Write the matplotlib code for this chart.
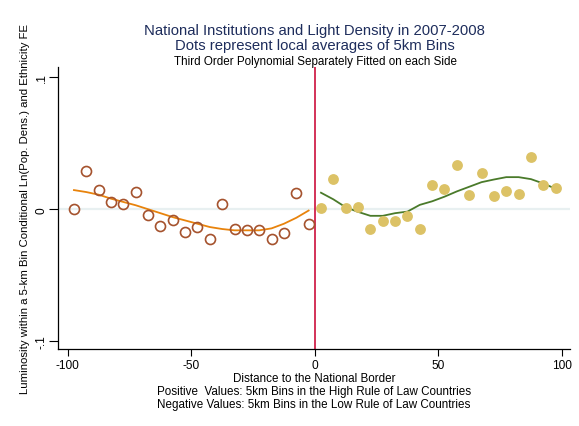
import matplotlib.pyplot as plt
import numpy as np

plt.rcParams['font.family'] = ['Liberation Sans', 'DejaVu Sans']
plt.rcParams['axes.unicode_minus'] = False

# 5km bin centres on each side of the border
left_x = [-97.5, -92.5, -87.5, -82.5, -77.5, -72.5, -67.5, -62.5, -57.5, -52.5,
          -47.5, -42.5, -37.5, -32.5, -27.5, -22.5, -17.5, -12.5, -7.5, -2.5]
right_x = [2.5, 7.5, 12.5, 17.5, 22.5, 27.5, 32.5, 37.5, 42.5, 47.5,
           52.5, 57.5, 62.5, 67.5, 72.5, 77.5, 82.5, 87.5, 92.5, 97.5]

# local averages (dots)
left_avg = [0.000, 0.029, 0.0148, 0.0053, 0.004, 0.0128, -0.0047, -0.0128, -0.0083, -0.0171,
            -0.0138, -0.0226, 0.004, -0.015, -0.0158, -0.0158, -0.0226, -0.0183, 0.0123, -0.0113]
right_avg = [0.0008, 0.0226, 0.0008, 0.0017, -0.0148, -0.0093, -0.0093, -0.005, -0.0148, 0.0183,
             0.015, 0.0338, 0.0105, 0.0273, 0.0098, 0.014, 0.0118, 0.0393, 0.0183, 0.016]

# fitted third order polynomial at the bin centres
left_fit = [0.0145, 0.013, 0.011, 0.008, 0.0055, 0.003, 0.000, -0.003, -0.006, -0.0085,
            -0.011, -0.0135, -0.015, -0.016, -0.016, -0.016, -0.0145, -0.011, -0.0065, -0.001]
right_fit = [0.0125, 0.0075, 0.0015, -0.002, -0.005, -0.005, -0.003, -0.0018, 0.0033, 0.006,
             0.0095, 0.0135, 0.017, 0.0205, 0.0225, 0.0243, 0.0243, 0.0228, 0.0195, 0.0155]

xticks = [-100, -50, 0, 50, 100]
yticks = [-0.1, 0, 0.1]
ytick_labels = ['-.1', '0', '.1']

fig = plt.figure(figsize=(5.79, 4.27), dpi=100)
ax = fig.add_axes([0.1, 0.18, 0.884, 0.66])

ax.axhline(0, color='#e8f0f1', lw=1.6, zorder=0)
ax.axvline(0, color='#cc0f3c', lw=1.2, zorder=1)

ax.plot(left_x, left_fit, color='#e8830c', lw=1.3, zorder=2)
ax.plot(right_x, right_fit, color='#4a7a2a', lw=1.3, zorder=2)

ax.plot(left_x, left_avg, 'o', ms=7.2, mfc='none', mec='#a5522d', mew=1.2, zorder=3)
ax.plot(right_x, right_avg, 'o', ms=7.8, mfc='#dcc266', mec='#dcc266', mew=0, zorder=3)

ax.set_xlim(-104, 103.2)
ax.set_ylim(-0.106, 0.1075)
ax.set_xticks(xticks)
ax.set_yticks(yticks)
ax.set_yticklabels(ytick_labels, rotation=90, va='center')
ax.tick_params(labelsize=8.6, width=0.8)
ax.tick_params(axis='x', length=5, pad=2)
ax.tick_params(axis='y', length=6.5, pad=1)

for s in ['top', 'right']:
    ax.spines[s].set_visible(False)
for s in ['left', 'bottom']:
    ax.spines[s].set_linewidth(0.9)

ax.set_ylabel('Luminosity within a 5-km Bin Conditional Ln(Pop. Dens.) and Ethnicity FE',
              fontsize=8.2, labelpad=4)
ax.set_xlabel('Distance to the National Border\n'
              'Positive  Values: 5km Bins in the High Rule of Law Countries\n'
              'Negative Values: 5km Bins in the Low Rule of Law Countries',
              fontsize=8.4, labelpad=1, linespacing=1.12)

fig.text(0.543, 0.91, 'National Institutions and Light Density in 2007-2008\n'
         'Dots represent local averages of 5km Bins',
         ha='center', va='center', fontsize=10.7, color='#1e2d5c', linespacing=1.05)
fig.text(0.545, 0.855, 'Third Order Polynomial Separately Fitted on each Side',
         ha='center', va='center', fontsize=8.4, color='black')

fig.savefig('out.png', dpi=100)
